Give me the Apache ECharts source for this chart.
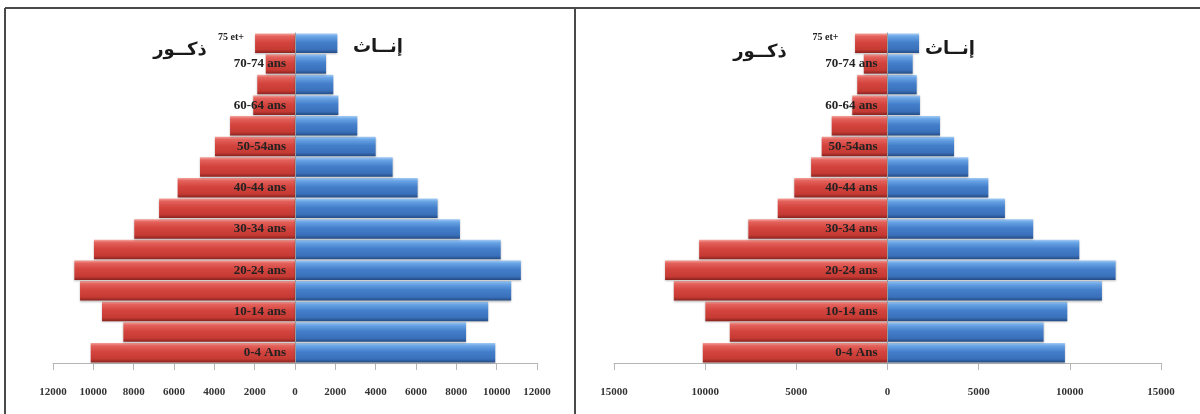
<!DOCTYPE html>
<html>
<head>
<meta charset="utf-8">
<script src="https://cdn.jsdelivr.net/npm/echarts@6/dist/echarts.min.js"></script>
<style>
  html, body { margin: 0; padding: 0; background: #ffffff; }
  #chart { width: 1200px; height: 414px; }
</style>
</head>
<body>
<div id="chart"></div>
<script>
// Age groups, bottom to top
const ageGroups = ['0-4 Ans', '5-9 ans', '10-14 ans', '15-19 ans', '20-24 ans', '25-29 ans',
  '30-34 ans', '35-39 ans', '40-44 ans', '45-49 ans', '50-54ans', '55-59 ans',
  '60-64 ans', '65-69 ans', '70-74 ans', '75 et+'];

// First pyramid (left panel)
const malesA   = [10130, 8510, 9570, 10660, 10940, 9970, 7970, 6740, 5820, 4710, 3970, 3220, 2070, 1870, 1450, 1980];
const femalesA = [9930, 8480, 9580, 10720, 11200, 10200, 8180, 7070, 6080, 4840, 4000, 3090, 2150, 1900, 1540, 2100];

// Second pyramid (right panel)
const malesB   = [10130, 8650, 9990, 11720, 12200, 10330, 7630, 6020, 5110, 4190, 3610, 3060, 1930, 1660, 1300, 1780];
const femalesB = [9730, 8560, 9860, 11760, 12510, 10520, 7990, 6440, 5530, 4430, 3650, 2880, 1780, 1600, 1380, 1730];

// Value-axis ranges
const axisA = { min: -12000, max: 12000, interval: 2000 };
const axisB = { min: -15000, max: 15000, interval: 5000 };

const maleLabel = 'ذكــور';
const femaleLabel = 'إنــاث';

// Panel geometry (pixels)
const panels = [
  { left: 53, width: 484 },
  { left: 614, width: 547 }
];
const gridTop = 33, gridBottom = 51;

function bevel(light, hi, main, low, dark) {
  return new echarts.graphic.LinearGradient(0, 0, 0, 1, [
    { offset: 0, color: light },
    { offset: 0.14, color: hi },
    { offset: 0.45, color: main },
    { offset: 0.82, color: low },
    { offset: 1, color: dark }
  ]);
}
const redFill  = bevel('#f4a09a', '#e4625c', '#d4443e', '#c63a34', '#8a231f');
const blueFill = bevel('#a3cbf4', '#6aa5e6', '#447fcb', '#3a70ba', '#234c85');

const serif = '"Liberation Serif", "DejaVu Serif", serif';

function xAxisFor(gridIndex, range) {
  return {
    type: 'value', gridIndex,
    min: range.min, max: range.max, interval: range.interval,
    splitLine: { show: false },
    axisLine: { show: true, onZero: false, lineStyle: { color: '#b5b5b5', width: 1 } },
    axisTick: { show: true, length: 7, lineStyle: { color: '#b5b5b5' } },
    axisLabel: {
      margin: 24, color: '#333', fontFamily: serif, fontWeight: 'bold', fontSize: 11,
      formatter: v => String(Math.abs(v))
    }
  };
}

// Category axis sits on the zero line of its panel: shift it inward by half the panel width
function yAxisFor(gridIndex, labelMargin, topShift) {
  const last = ageGroups.length - 1;
  return {
    type: 'category', gridIndex, data: ageGroups, z: 10,
    position: 'left',
    offset: -panels[gridIndex].width / 2,
    axisLine: { show: true, onZero: false, lineStyle: { color: '#9a9a9a', width: 1 } },
    axisTick: { show: false },
    axisLabel: {
      margin: labelMargin, color: '#222', fontFamily: serif, fontWeight: 'bold', fontSize: 13,
      interval: idx => idx % 2 === 0 || idx === last,
      formatter: (v, idx) => idx === last ? '{top|' + v + '}' : v,
      rich: {
        top: { fontSize: 10, fontFamily: serif, fontWeight: 'bold', color: '#222', padding: [0, topShift, 12, 0] }
      }
    }
  };
}

function barSeries(axisIndex, values, sign, fill) {
  return {
    type: 'bar', xAxisIndex: axisIndex, yAxisIndex: axisIndex,
    stack: 'pyr' + axisIndex,
    barCategoryGap: '6%',
    data: values.map(v => sign * v),
    itemStyle: { color: fill, shadowColor: 'rgba(0,0,0,0.25)', shadowBlur: 2, shadowOffsetY: 1 },
    emphasis: { disabled: true }
  };
}

const chart = echarts.init(document.getElementById('chart'), null, { renderer: 'canvas' });

const headerFont = 'bold 18px "DejaVu Sans", sans-serif';

chart.setOption({
  backgroundColor: '#ffffff',
  animation: false,
  grid: panels.map(p => ({
    left: p.left, width: p.width, top: gridTop, bottom: gridBottom,
    containLabel: false, outerBoundsMode: 'none'
  })),
  xAxis: [xAxisFor(0, axisA), xAxisFor(1, axisB)],
  yAxis: [yAxisFor(0, 9, 42), yAxisFor(1, 10, 39)],
  series: [
    barSeries(0, malesA, -1, redFill),
    barSeries(0, femalesA, 1, blueFill),
    barSeries(1, malesB, -1, redFill),
    barSeries(1, femalesB, 1, blueFill)
  ],
  graphic: [
    // panel frame
    { type: 'line', shape: { x1: 5, y1: 8, x2: 1200, y2: 8 }, style: { stroke: '#4a4a4a', lineWidth: 2 } },
    { type: 'line', shape: { x1: 5, y1: 8, x2: 5, y2: 414 }, style: { stroke: '#4a4a4a', lineWidth: 2 } },
    { type: 'line', shape: { x1: 575, y1: 8, x2: 575, y2: 414 }, style: { stroke: '#4a4a4a', lineWidth: 2 } },
    // side headers
    { type: 'text', x: 180, y: 50, style: { text: maleLabel, font: headerFont, fill: '#1a1a1a', align: 'center', verticalAlign: 'middle' } },
    { type: 'text', x: 378, y: 47, style: { text: femaleLabel, font: headerFont, fill: '#1a1a1a', align: 'center', verticalAlign: 'middle' } },
    { type: 'text', x: 760, y: 52, style: { text: maleLabel, font: headerFont, fill: '#1a1a1a', align: 'center', verticalAlign: 'middle' } },
    { type: 'text', x: 950, y: 49, style: { text: femaleLabel, font: headerFont, fill: '#1a1a1a', align: 'center', verticalAlign: 'middle' } }
  ]
});
</script>
</body>
</html>
